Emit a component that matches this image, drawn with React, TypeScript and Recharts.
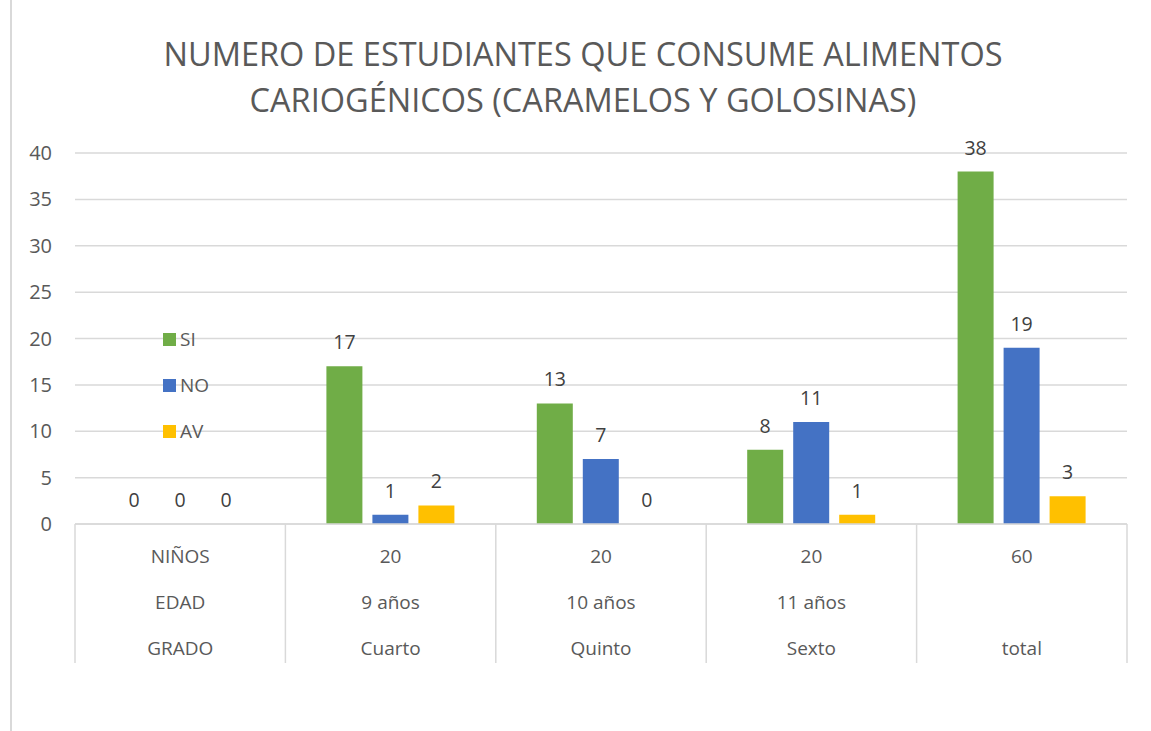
import { Bar, BarChart, CartesianGrid, LabelList, XAxis, YAxis } from "recharts";

const grado = ["GRADO", "Cuarto", "Quinto", "Sexto", "total"];
const edad = ["EDAD", "9 años", "10 años", "11 años", ""];
const ninos = ["NIÑOS", "20", "20", "20", "60"];

const si = [0, 17, 13, 8, 38];
const no = [0, 1, 7, 11, 19];
const av = [0, 2, 0, 1, 3];

const yTicks = [0, 5, 10, 15, 20, 25, 30, 35, 40];

const series = [
  { key: "si", label: "SI", color: "#70AD47" },
  { key: "no", label: "NO", color: "#4472C4" },
  { key: "av", label: "AV", color: "#FFC000" },
];

const data = grado.map((g, i) => ({
  grado: g,
  edad: edad[i],
  ninos: ninos[i],
  si: si[i],
  no: no[i],
  av: av[i],
}));

const font = "'Open Sans', sans-serif";
const textColor = "#595959";
const lineColor = "#d9d9d9";

// three-row category table under the axis, like excel's multi-level labels
function CategoryTick(props: any) {
  const { x, y, payload, index } = props;
  const half = payload?.offset || 105.2;
  const row = data[index] || data[0];
  const rows = [row.ninos, row.edad, row.grado];
  return (
    <g>
      <line x1={x - half} x2={x - half} y1={y} y2={y + 139} stroke={lineColor} strokeWidth={1.5} />
      {index === data.length - 1 && (
        <line x1={x + half} x2={x + half} y1={y} y2={y + 139} stroke={lineColor} strokeWidth={1.5} />
      )}
      {rows.map((t, i) => (
        <text
          key={i}
          x={x}
          y={y + 32 + i * 46}
          textAnchor="middle"
          dominantBaseline="central"
          fill={textColor}
          fontSize={19}
          fontFamily={font}
        >
          {t}
        </text>
      ))}
    </g>
  );
}

// excel puts the legend inside the plot, left side
function LegendBox() {
  return (
    <div
      style={{
        position: "absolute",
        left: 163,
        top: 316,
        fontFamily: font,
        fontSize: 19,
        color: textColor,
      }}
    >
      {series.map((s) => (
        <div key={s.key} style={{ display: "flex", alignItems: "center", height: 46 }}>
          <span style={{ width: 13, height: 13, background: s.color, marginRight: 4 }} />
          <span>{s.label}</span>
        </div>
      ))}
    </div>
  );
}

export default function App() {
  return (
    <div
      style={{
        position: "absolute",
        left: 0,
        top: 0,
        width: 1151,
        height: 731,
        background: "#fff",
        fontFamily: font,
      }}
    >
      <div
        style={{
          position: "absolute",
          left: 10,
          top: 0,
          width: 2,
          height: 731,
          background: lineColor,
        }}
      />
      <div
        style={{
          position: "absolute",
          left: 0,
          top: 31,
          width: 1166,
          textAlign: "center",
          fontSize: 32.5,
          lineHeight: "46px",
          color: textColor,
        }}
      >
        NUMERO DE ESTUDIANTES QUE CONSUME ALIMENTOS
        <br />
        CARIOGÉNICOS (CARAMELOS Y GOLOSINAS)
      </div>
      <div style={{ position: "absolute", left: 0, top: 0 }}>
        <BarChart
          width={1151}
          height={731}
          data={data}
          margin={{ top: 153, right: 24, left: 15, bottom: 67 }}
          barSize={36}
          barGap={10}
        >
          <CartesianGrid vertical={false} stroke={lineColor} strokeWidth={1.5} />
          <XAxis
            dataKey="grado"
            axisLine={{ stroke: lineColor, strokeWidth: 1.5 }}
            tickLine={false}
            tickSize={0}
            tickMargin={0}
            interval={0}
            height={140}
            tick={<CategoryTick />}
          />
          <YAxis
            domain={[0, 40]}
            ticks={yTicks}
            width={60}
            axisLine={false}
            tickLine={false}
            tickSize={0}
            tickMargin={23}
            tick={{ fill: textColor, fontSize: 20, fontFamily: font }}
          />
          {series.map((s) => (
            <Bar
              key={s.key}
              dataKey={s.key}
              name={s.label}
              fill={s.color}
              minPointSize={0.01}
              isAnimationActive={false}
            >
              <LabelList
                dataKey={s.key}
                position="top"
                offset={17}
                fill="#404040"
                fontSize={19.5}
                fontFamily={font}
              />
            </Bar>
          ))}
        </BarChart>
      </div>
      <LegendBox />
    </div>
  );
}
